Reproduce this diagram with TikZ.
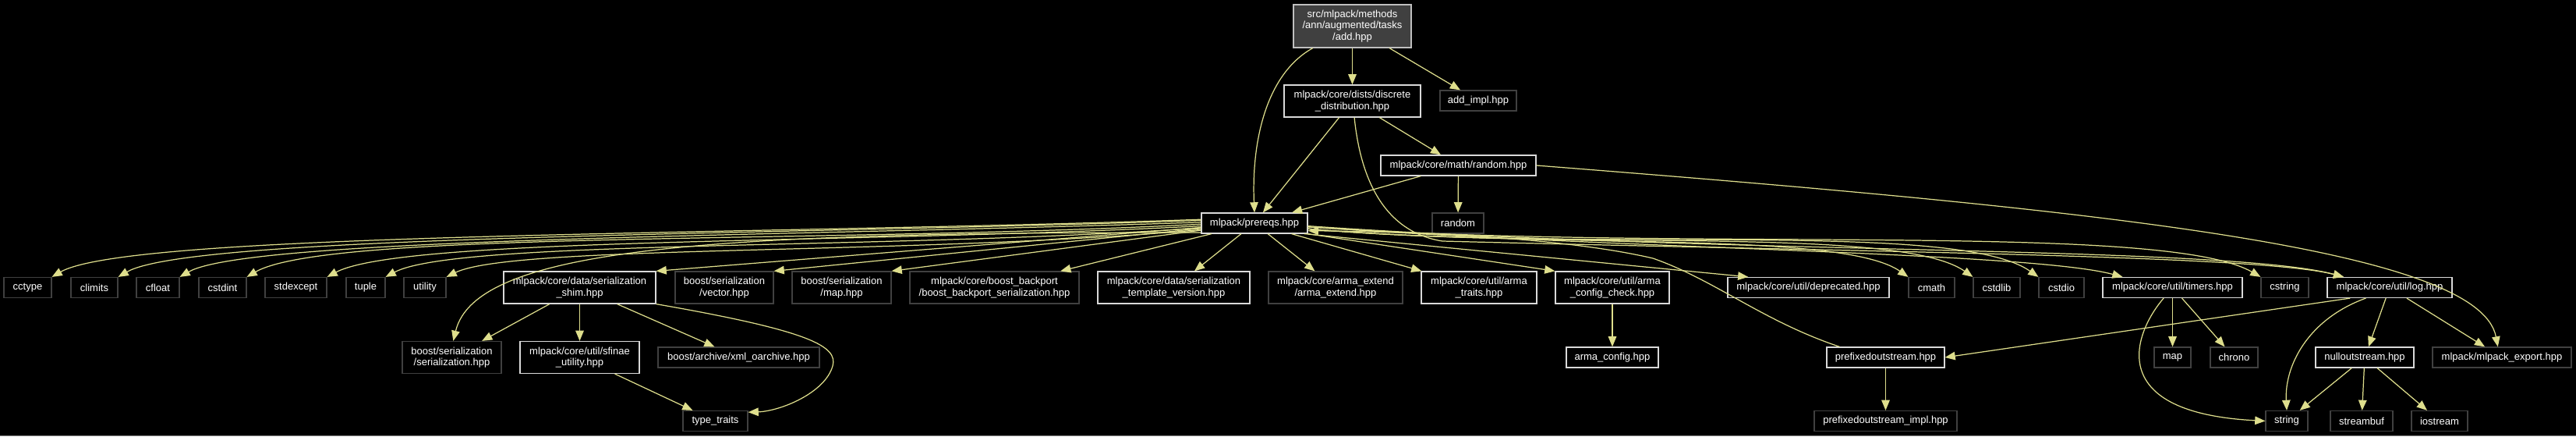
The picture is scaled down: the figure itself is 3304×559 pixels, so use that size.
\documentclass[tikz,border=0pt]{standalone}
\usepackage{fontspec}
\setmainfont{Liberation Sans}
\usetikzlibrary{arrows.meta}
\definecolor{edgecol}{HTML}{DEDE8C}
\definecolor{docline}{HTML}{D9D9D9}
\definecolor{leafline}{HTML}{404040}
\definecolor{rootfill}{HTML}{404040}
\definecolor{rootline}{HTML}{BFBFBF}
\definecolor{pageline}{HTML}{808080}

\begin{document}
\begin{tikzpicture}[x=0.02cm,y=0.02cm,
  leafbox/.style={draw=leafline, line width=0.7pt, fill=black, text=white, font=\fontsize{7.4}{8.2}\selectfont, align=center, inner sep=0pt, minimum height=0.52cm},
  docbox/.style={leafbox, draw=docline},
  rootbox/.style={leafbox, draw=rootline, fill=rootfill},
  tall/.style={minimum height=0.82cm},
  incl/.style={draw=edgecol, line width=0.7pt, -{Triangle[length=7.5pt,width=6pt]}}]
\useasboundingbox (0,0) rectangle (3304,559);
\fill[black] (0,0) rectangle (3304,559);
\draw[pageline, line width=0.6pt] (0,0.5) -- (3304,0.5);

\node[rootbox, minimum width=3.02cm, minimum height=1.10cm] (add) at (1734.5,525.5) {src/mlpack/methods\\/ann/augmented/tasks\\/add.hpp};
\node[docbox, tall, minimum width=3.50cm] (discrete) at (1734.5,429.5) {mlpack/core/dists/discrete\\\_distribution.hpp};
\node[leafbox, minimum width=1.96cm] (addimpl) at (1896,430) {add\_impl.hpp};
\node[docbox, minimum width=3.98cm] (randomhpp) at (1870.5,347) {mlpack/core/math/random.hpp};
\node[docbox, minimum width=2.72cm] (prereqs) at (1609,273) {mlpack/prereqs.hpp};
\node[leafbox, minimum width=1.32cm] (random) at (1870,273) {random};

\node[leafbox, minimum width=1.22cm] (cctype) at (35.5,190.5) {cctype};
\node[leafbox, minimum width=1.20cm] (climits) at (121,190.5) {climits};
\node[leafbox, minimum width=1.10cm] (cfloat) at (202.5,190.5) {cfloat};
\node[leafbox, minimum width=1.22cm] (cstdint) at (285.5,190.5) {cstdint};
\node[leafbox, minimum width=1.58cm] (stdexcept) at (379.5,190.5) {stdexcept};
\node[leafbox, minimum width=1.00cm] (tuple) at (469,190.5) {tuple};
\node[leafbox, minimum width=1.08cm] (utility) at (545,190.5) {utility};
\node[docbox, tall, minimum width=3.90cm] (shim) at (743.5,190.5) {mlpack/core/data/serialization\\\_shim.hpp};
\node[leafbox, tall, minimum width=2.52cm] (vector) at (929,190.5) {boost/serialization\\/vector.hpp};
\node[leafbox, tall, minimum width=2.54cm] (mapb) at (1079.5,190.5) {boost/serialization\\/map.hpp};
\node[leafbox, tall, minimum width=4.34cm] (backport) at (1275.5,190.5) {mlpack/core/boost\_backport\\/boost\_backport\_serialization.hpp};
\node[docbox, tall, minimum width=3.90cm] (template) at (1505.5,190.5) {mlpack/core/data/serialization\\\_template\_version.hpp};
\node[leafbox, tall, minimum width=3.44cm] (armaextend) at (1713,190.5) {mlpack/core/arma\_extend\\/arma\_extend.hpp};
\node[docbox, tall, minimum width=2.96cm] (armatraits) at (1897,190.5) {mlpack/core/util/arma\\\_traits.hpp};
\node[docbox, tall, minimum width=2.92cm] (configcheck) at (2068,190.5) {mlpack/core/util/arma\\\_config\_check.hpp};
\node[docbox, minimum width=4.14cm] (deprecated) at (2319.5,190.5) {mlpack/core/util/deprecated.hpp};
\node[leafbox, minimum width=1.18cm] (cmath) at (2477.5,190.5) {cmath};
\node[leafbox, minimum width=1.20cm] (cstdlib) at (2561,190.5) {cstdlib};
\node[leafbox, minimum width=1.16cm] (cstdio) at (2644,190.5) {cstdio};
\node[docbox, minimum width=3.58cm] (timers) at (2786.5,190.5) {mlpack/core/util/timers.hpp};
\node[leafbox, minimum width=1.22cm] (cstring) at (2930.5,190.5) {cstring};
\node[docbox, minimum width=3.20cm] (log) at (3065,190.5) {mlpack/core/util/log.hpp};

\node[leafbox, tall, minimum width=2.54cm] (serialization) at (579.5,101) {boost/serialization\\/serialization.hpp};
\node[docbox, tall, minimum width=3.06cm] (sfinae) at (743.5,101) {mlpack/core/util/sfinae\\\_utility.hpp};
\node[leafbox, minimum width=4.14cm] (xml) at (947.5,101) {boost/archive/xml\_oarchive.hpp};
\node[docbox, minimum width=2.36cm] (armaconfig) at (2068,101) {arma\_config.hpp};
\node[docbox, minimum width=3.02cm] (prefixed) at (2418.5,101) {prefixedoutstream.hpp};
\node[leafbox, minimum width=0.94cm] (map) at (2786.5,101) {map};
\node[leafbox, minimum width=1.22cm] (chrono) at (2865.5,101) {chrono};
\node[docbox, minimum width=2.52cm] (nullout) at (3033,101) {nulloutstream.hpp};
\node[leafbox, minimum width=3.56cm] (export) at (3209,101) {mlpack/mlpack\_export.hpp};

\node[leafbox, minimum width=1.66cm] (typetraits) at (917.5,19.5) {type\_traits};
\node[leafbox, minimum width=3.66cm] (prefixedimpl) at (2418.5,19.5) {prefixedoutstream\_impl.hpp};
\node[leafbox, minimum width=1.08cm] (string) at (2933,19.5) {string};
\node[leafbox, minimum width=1.60cm] (streambuf) at (3029,19.5) {streambuf};
\node[leafbox, minimum width=1.44cm] (iostream) at (3129,19.5) {iostream};

\draw[incl] (add) -- (discrete);
\draw[incl] (add) -- (addimpl);
\draw[incl] (add.209) .. controls (1625,465) and (1605,380) .. (prereqs.north);
\draw[incl] (discrete) -- (prereqs);
\draw[incl] (discrete) -- (randomhpp);
\draw[incl] (discrete.-83) .. controls (1745,330) and (1775,262) .. (1850,250) .. controls (2400,236) and (2900,232) .. (log.167);
\draw[incl] (randomhpp) -- (prereqs);
\draw[incl] (randomhpp) -- (random);
\draw[incl] (randomhpp.east) .. controls (2700,290) and (3180,240) .. (export.111);

\draw[incl] (prereqs.176) to[out=182,in=30,in looseness=0.2] (cctype.north east);
\draw[incl] (prereqs.177) to[out=182,in=30,in looseness=0.2] (climits.north east);
\draw[incl] (prereqs.179) to[out=182,in=30,in looseness=0.2] (cfloat.north east);
\draw[incl] (prereqs.181) to[out=183,in=30,in looseness=0.25] (cstdint.north east);
\draw[incl] (prereqs.183) to[out=183,in=28,in looseness=0.25] (stdexcept.north east);
\draw[incl] (prereqs.185) to[out=184,in=28,in looseness=0.25] (tuple.north east);
\draw[incl] (prereqs.187) to[out=185,in=26,in looseness=0.25] (utility.north east);
\draw[incl] (prereqs.190) .. controls (900,262) and (610,240) .. (serialization.85);
\draw[incl] (prereqs) -- (shim.north east);
\draw[incl] (prereqs) -- (vector.north east);
\draw[incl] (prereqs) -- (mapb.north east);
\draw[incl] (prereqs) -- (backport.14);
\draw[incl] (prereqs) -- (template);
\draw[incl] (prereqs) -- (armaextend);
\draw[incl] (prereqs) -- (armatraits);
\draw[incl] (prereqs.south east) -- (configcheck.north west);
\draw[incl] (prereqs.-12) -- (deprecated.170);
\draw[incl] (prereqs.-6) to[out=-5,in=145,in looseness=0.35] (cmath.north west);
\draw[incl] (prereqs.-6) to[out=-5,in=145,in looseness=0.35] (cstdlib.north west);
\draw[incl] (prereqs.-6) to[out=-5,in=145,in looseness=0.35] (cstdio.north west);
\draw[incl] (prereqs.-4) to[out=-4,in=165,in looseness=0.3] (timers.168);
\draw[incl] (prereqs.-4) to[out=-4,in=150,in looseness=0.3] (cstring.north west);
\draw[incl] (prereqs.-3) to[out=-4,in=165,in looseness=0.3] (log.167);

\draw[incl] (shim) -- (serialization);
\draw[incl] (shim) -- (sfinae);
\draw[incl] (shim) -- (xml);
\draw[incl] (shim.south east) .. controls (1040,135) and (1075,115) .. (1068,90) .. controls (1058,55) and (1000,32) .. (typetraits.15);
\draw[incl] (sfinae) -- (typetraits);
\draw[incl] (configcheck) -- (armaconfig);
\draw[incl] (prefixed.167) .. controls (2260,148) and (2200,200) .. (2120,228) .. controls (2000,256) and (1800,262) .. (prereqs.-8);
\draw[incl] (prefixed) -- (prefixedimpl);
\draw[incl] (timers) -- (map);
\draw[incl] (timers) -- (chrono);
\draw[incl] (timers.230) .. controls (2735,130) and (2700,30) .. (string.west);
\draw[incl] (log.195) -- (prefixed.east);
\draw[incl] (log.204) .. controls (2960,150) and (2930,90) .. (string.north);
\draw[incl] (log) -- (nullout);
\draw[incl] (log) -- (export);
\draw[incl] (nullout) -- (string);
\draw[incl] (nullout) -- (streambuf);
\draw[incl] (nullout) -- (iostream);
\end{tikzpicture}
\end{document}
